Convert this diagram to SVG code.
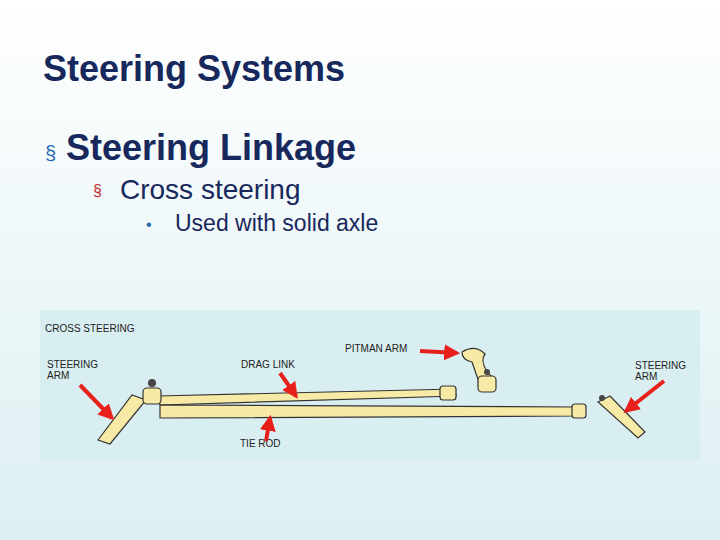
<svg xmlns="http://www.w3.org/2000/svg" width="720" height="540" viewBox="0 0 720 540">
<defs>
<linearGradient id="bg" x1="0" y1="0" x2="0" y2="1"><stop offset="0" stop-color="#ffffff"/><stop offset="1" stop-color="#dceff2"/></linearGradient>
<marker id="ah" viewBox="0 0 10 10" refX="8" refY="5" markerWidth="4" markerHeight="4" orient="auto"><path d="M0,0L10,5L0,10z" fill="#e8201c"/></marker>
</defs>
<style>
.t{font-family:"Liberation Sans",Arial,sans-serif;fill:#17285c}
.l{font-family:"Liberation Sans",Arial,sans-serif;font-size:10px;fill:#222}
.rod{fill:#f7eaa6;stroke:#333;stroke-width:1.2}
.arr{stroke:#e8201c;stroke-width:4;fill:none;marker-end:url(#ah)}
</style>
<rect width="720" height="540" fill="url(#bg)"/>
<rect x="40" y="310" width="660" height="150" fill="#d9eef0"/>
<text class="t" x="43" y="81" font-size="36" font-weight="bold">Steering Systems</text>
<text class="t" x="45" y="160" font-size="20" style="fill:#2a6ab0">§</text>
<text class="t" x="66" y="160" font-size="36" font-weight="bold">Steering Linkage</text>
<text class="t" x="93" y="196" font-size="16" style="fill:#c0282a">§</text>
<text class="t" x="120" y="199" font-size="28">Cross steering</text>
<text class="t" x="146" y="230" font-size="16" style="fill:#2a6ab0">•</text>
<text class="t" x="175" y="231" font-size="23">Used with solid axle</text>
<g id="linkage">
<path class="rod" d="M158,396 L455,389 L456,396 L160,405z"/>
<path class="rod" d="M160,405 L575,407 L576,416 L160,418z"/>
<path class="rod" d="M98,440 L132,395 L146,400 L110,444z"/>
<path class="rod" d="M598,402 L610,396 L645,432 L638,438z"/>
<path class="rod" d="M462,352 Q475,344 485,354 Q480,360 487,372 L495,380 L480,385 L472,362 Q462,360 462,352z"/>
<rect class="rod" x="440" y="386" width="16" height="14" rx="3"/>
<rect class="rod" x="478" y="376" width="18" height="16" rx="4"/>
<rect class="rod" x="143" y="388" width="18" height="16" rx="4"/>
<rect class="rod" x="572" y="404" width="14" height="14" rx="3"/>
<circle cx="152" cy="383" r="4" fill="#444"/>
<circle cx="487" cy="372" r="3" fill="#444"/>
<circle cx="602" cy="398" r="3" fill="#444"/>
</g>
<g id="labels">
<text class="l" x="45" y="332" font-size="13">CROSS STEERING</text>
<text class="l" x="47" y="368">STEERING</text><text class="l" x="47" y="379">ARM</text>
<text class="l" x="241" y="368">DRAG LINK</text>
<text class="l" x="345" y="352">PITMAN ARM</text>
<text class="l" x="635" y="369">STEERING</text><text class="l" x="635" y="380">ARM</text>
<text class="l" x="240" y="447">TIE ROD</text>
</g>
<g id="connectors">
<path class="arr" d="M80,385 L112,418"/>
<path class="arr" d="M280,373 L296,396"/>
<path class="arr" d="M420,351 L457,353"/>
<path class="arr" d="M664,381 L626,411"/>
<path class="arr" d="M266,441 L270,418"/>
</g>
</svg>
